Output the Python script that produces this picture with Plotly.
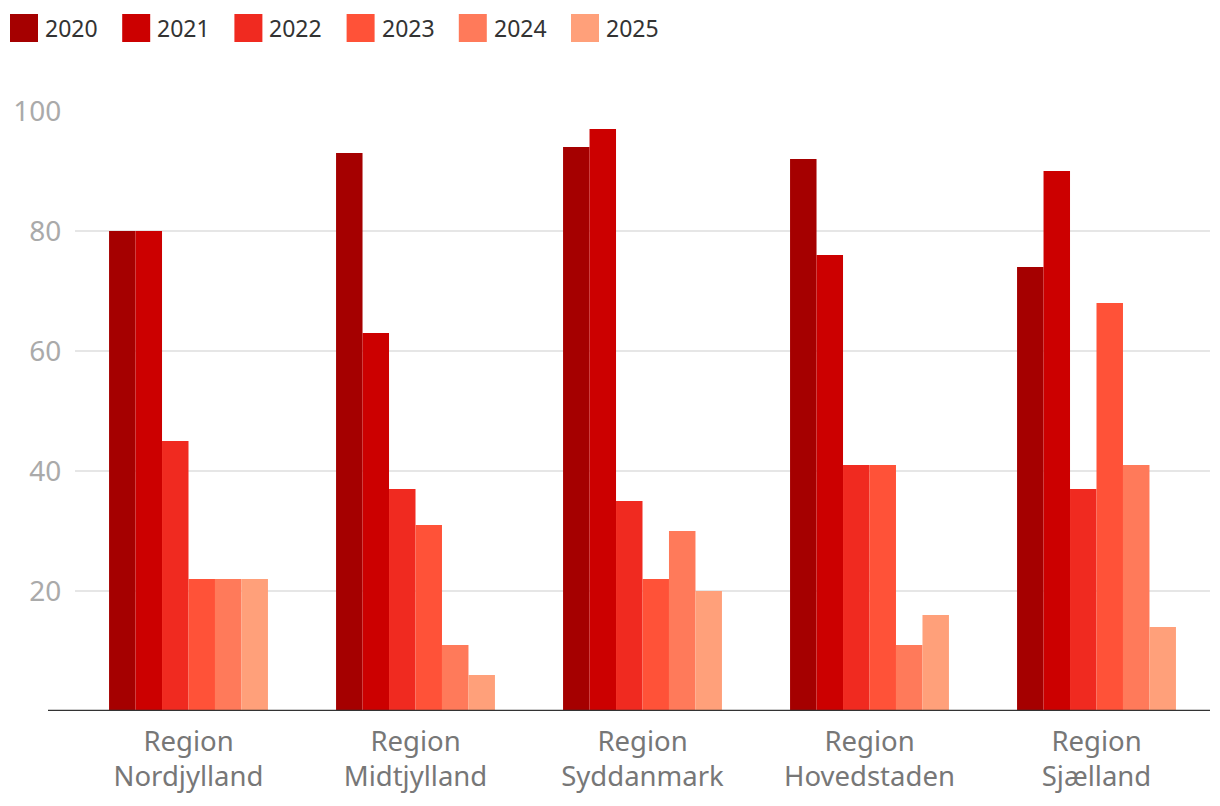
import plotly.graph_objects as go

regions = ["Region<br>Nordjylland", "Region<br>Midtjylland", "Region<br>Syddanmark",
           "Region<br>Hovedstaden", "Region<br>Sjælland"]
years = ["2020", "2021", "2022", "2023", "2024", "2025"]
colors = ["#a50000", "#cc0000", "#f02a20", "#ff5238", "#ff7a5a", "#ffa07a"]

v2020 = [80, 93, 94, 92, 74]
v2021 = [80, 63, 97, 76, 90]
v2022 = [45, 37, 35, 41, 37]
v2023 = [22, 31, 22, 41, 68]
v2024 = [22, 11, 30, 11, 41]
v2025 = [22, 6, 20, 16, 14]
series = [v2020, v2021, v2022, v2023, v2024, v2025]

FONT = "Noto Sans"
W, H = 1220, 806
OFF = 8  # page body margin offset
L, R, T, B = 75 - OFF, 10 + OFF, 111 - OFF, 95 + OFF
PW = W - L - R
PH = H - T - B

fig = go.Figure()
for yr, col, vals in zip(years, colors, series):
    fig.add_trace(go.Bar(x=regions, y=vals, name=yr, marker_color=col,
                         marker_line_width=0, showlegend=False))

# legend drawn as squares + labels in paper coordinates
for i, (yr, col) in enumerate(zip(years, colors)):
    x0px = 10 - OFF + i * 112.2
    ytop = 14 - OFF
    fig.add_shape(type="rect", xref="paper", yref="paper",
                  x0=(x0px - L) / PW, x1=(x0px + 28 - L) / PW,
                  y0=(H - B - (ytop + 28)) / PH, y1=(H - B - ytop) / PH,
                  fillcolor=col, line_width=0)
    fig.add_annotation(xref="paper", yref="paper", x=(x0px + 33 - L) / PW,
                       y=(H - B - (ytop + 14)) / PH, xanchor="left", yanchor="middle",
                       text=yr, showarrow=False,
                       font=dict(size=23, color="#333333", family=FONT))

fig.update_layout(
    width=W, height=H,
    margin=dict(l=L, r=R, t=T, b=B, autoexpand=False),
    plot_bgcolor="white", paper_bgcolor="white",
    barmode="group", bargap=0.3, bargroupgap=0,
    font=dict(family=FONT), showlegend=False,
    xaxis=dict(showgrid=False, showline=False, ticks="", automargin=False,
               ticklabelstandoff=11,
               tickfont=dict(size=27.5, color="#777777", family=FONT)),
    yaxis=dict(range=[0, 100], tickvals=[20, 40, 60, 80, 100], automargin=False,
               showgrid=True, gridcolor="#e6e6e6", gridwidth=2,
               zeroline=False, showline=False,
               ticks="outside", ticklen=7, tickcolor="rgba(0,0,0,0)",
               tickfont=dict(size=28, color="#aaaaaa", family=FONT)),
)
fig.add_shape(type="line", xref="paper", yref="y",
              x0=(48 - 75) / PW, x1=1, y0=0, y1=0,
              line=dict(color="#333333", width=2.5))
fig.write_html("out.html")
